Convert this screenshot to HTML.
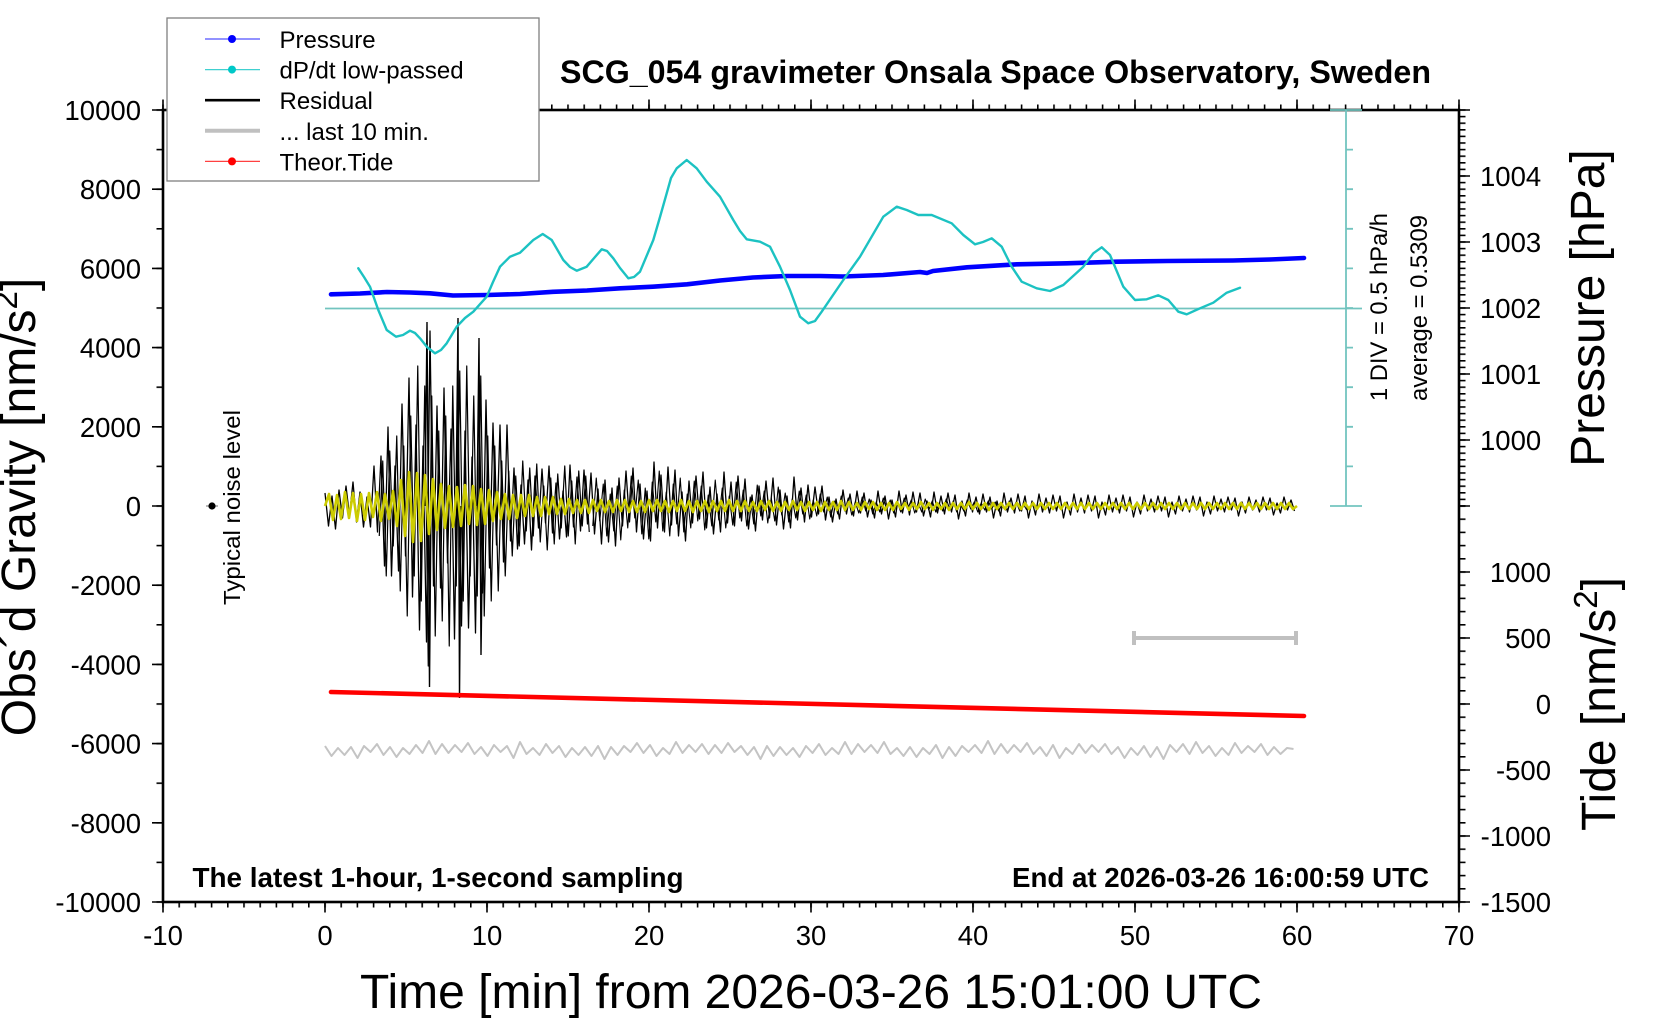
<!DOCTYPE html>
<html>
<head>
<meta charset="utf-8">
<style>
html,body{margin:0;padding:0;background:#fff;overflow:hidden;}
svg{display:block;}
text{font-family:"Liberation Sans",Arial,Helvetica,sans-serif;fill:#000;}
</style>
</head>
<body>
<svg xmlns="http://www.w3.org/2000/svg" width="1660" height="1020" viewBox="0 0 1660 1020">
<defs>
<pattern id="pxb" patternUnits="userSpaceOnUse" x="162.2" y="0" width="16.2" height="10"><rect x="0" y="0" width="1.6" height="10" fill="#000"/></pattern>
<pattern id="pyl" patternUnits="userSpaceOnUse" x="0" y="109.2" width="10" height="39.6"><rect x="0" y="0" width="10" height="1.6" fill="#000"/></pattern>
<pattern id="ppr" patternUnits="userSpaceOnUse" x="0" y="109.2" width="10" height="6.6"><rect x="0" y="0" width="10" height="1.6" fill="#000"/></pattern>
<pattern id="ptd" patternUnits="userSpaceOnUse" x="0" y="505.2" width="10" height="13.2"><rect x="0" y="0" width="10" height="1.6" fill="#000"/></pattern>
</defs>
<rect x="0" y="0" width="1660" height="1020" fill="#fff"/>

<!-- minor ticks -->
<rect x="162" y="902" width="1299" height="5.5" fill="url(#pxb)"/>
<rect x="162" y="104.5" width="1299" height="5.5" fill="url(#pxb)"/>
<rect x="156.5" y="109" width="6.5" height="794.5" fill="url(#pyl)"/>
<rect x="1459" y="109" width="6.5" height="398" fill="url(#ppr)"/>
<rect x="1459" y="505" width="6.5" height="398.5" fill="url(#ptd)"/>
<!-- major ticks -->
<path stroke="#000" stroke-width="1.6" fill="none" d="M163,902v10.5M325,902v10.5M487,902v10.5M649,902v10.5M811,902v10.5M973,902v10.5M1135,902v10.5M1297,902v10.5M1459,902v10.5
M163,110v-10.5M325,110v-10.5M487,110v-10.5M649,110v-10.5M811,110v-10.5M973,110v-10.5M1135,110v-10.5M1297,110v-10.5M1459,110v-10.5
M163,110h-11M163,189.2h-11M163,268.4h-11M163,347.6h-11M163,426.8h-11M163,506h-11M163,585.2h-11M163,664.4h-11M163,743.6h-11M163,822.8h-11M163,902h-11
M1459,110h11M1459,176h11M1459,242h11M1459,308h11M1459,374h11M1459,440h11M1459,506h11
M1459,572h11M1459,638h11M1459,704h11M1459,770h11M1459,836h11M1459,902h11"/>

<!-- frame -->
<rect x="163" y="110" width="1296" height="792" fill="none" stroke="#000" stroke-width="2.6"/>

<!-- cyan zero line and DIV axis -->
<g stroke="#72c4bf" stroke-width="1.8" fill="none">
<line x1="325" y1="308.5" x2="1362" y2="308.5"/>
<line x1="1346" y1="110" x2="1346" y2="506"/>
<line x1="1330" y1="110" x2="1362" y2="110"/>
<line x1="1330" y1="506" x2="1362" y2="506"/>
<path d="M1346,149.6h7M1346,189.2h7M1346,228.8h7M1346,268.4h7M1346,308h7M1346,347.6h7M1346,387.2h7M1346,426.8h7M1346,466.4h7"/>
</g>

<!-- residual -->
<polyline fill="none" stroke="#000" stroke-width="1.3" stroke-linejoin="round" vector-effect="non-scaling-stroke" transform="translate(325,506) scale(3.5,1)"
points="0,-13 1,20 2,-10 3,23 4,-16 5,12 6,-20 7,10 8,-24 9,16 10,-14 11,21 12,-9 13,21 14,-40 15,26 16,-50 17,60 18,-79 19,70 20,-40 21,65 22,-102 23,50 24,-128 25,91 26,-81 27,124 28,-60 29,136 30,-175 31,80 32,-100 33,82 34,-118 35,57 36,-77 37,133 38,-90 39,120 40,-75 41,122 42,-49 43,127 44,-116 45,87 46,-106 47,62 48,-83 49,39 50,-81 51,56 52,-81 53,35 54,-38 55,43 56,-21 57,38 58,-26 59,44 60,-30 61,22 62,-37 63,17 64,-40 65,27 66,-23 67,33 68,-15 69,31 70,-41 71,21 72,-29 73,25 74,-36 75,18 76,-33 77,28 78,-17 79,38 80,-26 81,36 82,-18 83,40 84,-28 85,20 86,-35 87,16 88,-38 89,26 90,-22 91,33 92,-15 93,35 94,-44 95,22 96,-31 97,26 98,-39 99,19 100,-36 101,30 102,-14 103,35 104,-25 105,17 106,-30 107,13 108,-34 109,22 110,-19 111,28 112,-12 113,26 114,-34 115,17 116,-24 117,20 118,-30 119,15 120,-27 121,23 122,-11 123,25 124,-20 125,14 126,-25 127,12 128,-28 129,19 130,-16 131,23 132,-10 133,22 134,-29 135,14 136,-18 137,16 138,-21 139,11 140,-19 141,8 142,-20 143,14 144,-9 145,16 146,-7 147,13 148,-16 149,8 150,-12 151,10 152,-15 153,7 154,-13 155,11 156,-6 157,12 158,-15 159,8 160,-10 161,13 162,-6 163,11 164,-15 165,7 166,-11 167,9 168,-14 169,6 170,-13 171,10 172,-5 173,11 174,-14 175,7 176,-10 177,8 178,-13 179,6 180,-11 181,13 182,-5 183,10 184,-13 185,6 186,-9 187,8 188,-12 189,6 190,-9 191,12 192,-5 193,10 194,-13 195,6 196,-8 197,7 198,-12 199,5 200,-10 201,12 202,-5 203,9 204,-12 205,6 206,-8 207,7 208,-11 209,5 210,-10 211,12 212,-4 213,9 214,-12 215,6 216,-8 217,7 218,-11 219,5 220,-10 221,12 222,-4 223,9 224,-11 225,6 226,-8 227,7 228,-11 229,5 230,-9 231,11 232,-4 233,8 234,-11 235,5 236,-7 237,6 238,-10 239,5 240,-9 241,11 242,-4 243,8 244,-10 245,5 246,-7 247,6 248,-10 249,4 250,-9 251,10 252,-4 253,8 254,-10 255,5 256,-7 257,6 258,-9 259,4 260,-8 261,10 262,-4 263,7 264,-9 265,4 266,-6 267,6 268,-9 269,4 270,-8 271,9 272,-3 273,7 274,-9 275,4 276,-6 277,5"/>
<!-- residual overlay (denser burst) -->
<polyline fill="none" stroke="#000" stroke-width="1.2" stroke-linejoin="round" vector-effect="non-scaling-stroke" transform="translate(326.75,506) scale(3.5,1)"
points="15,30 16,-45 17,70 18,-55 19,40 20,-70 21,85 22,-60 23,110 24,-90 25,70 26,-140 27,95 28,-120 29,160 30,-110 31,130 32,-75 33,115 34,-90 35,140 36,-120 37,80 38,-135 39,95 40,-140 41,70 42,-110 43,90 44,-130 45,110 46,-70 47,95 48,-60 49,85 50,-45 51,70 52,-35 53,50 54,-30 55,40 56,-45 57,25 58,-38 59,30 60,-42 61,36 62,-20 63,44 64,-28 65,38 66,-32 67,22 68,-40 69,30 70,-25 71,38 72,-35 73,20 74,-30 75,26"/>
<polyline fill="none" stroke="#000" stroke-width="1.1" stroke-linejoin="round" vector-effect="non-scaling-stroke" transform="translate(326.75,506) scale(3.5,1)"
points="76,20 77,-28 78,15 79,-22 80,30 81,-12 82,25 83,-20 84,34 85,-16 86,22 87,-30 88,12 89,-26 90,28 91,-18 92,33 93,-24 94,16 95,-35 96,25 97,-14 98,30 99,-22 100,18 101,-28 102,26 103,-12 104,22 105,-25 106,15 107,-20 108,24 109,-11 110,20 111,-26 112,14 113,-18 114,22 115,-10 116,19 117,-24 118,12 119,-16 120,20 121,-9 122,18 123,-21 124,10 125,-15 126,17 127,-8 128,15 129,-19 130,9 131,-13 132,16 133,-7 134,12 135,-15 136,8 137,-11 138,13 139,-6 140,10 141,-12 142,6 143,-9 144,11 145,-5 146,8 147,-10 148,5 149,-8 150,9 151,-4 152,7 153,-9 154,5 155,-7 156,8 157,-4 158,6 159,-8 160,4 161,-6 162,7 163,-4 164,6 165,-8 166,3 167,-6 168,7 169,-3 170,6 171,-7 172,4 173,-5 174,6 175,-3 176,5 177,-7 178,3 179,-5 180,6 181,-3 182,5 183,-6 184,3 185,-4 186,6 187,-3 188,4 189,-5 190,3 191,-4 192,5 193,-2 194,4 195,-5 196,3 197,-4 198,5 199,-2 200,4"/>
<path fill="none" stroke="#000" stroke-width="1.4" d="M425,506L427,322L429.5,687L431,506M456,506L458,318L459.5,698L461,506M477,506L479,338L481,655L483,506"/>

<!-- yellow -->
<polyline fill="none" stroke="#cccc00" stroke-width="2.6" stroke-linejoin="round" vector-effect="non-scaling-stroke" transform="translate(325,506) scale(4,1)"
points="0,0 1,-12 2,14 3,-11 4,13 5,-14 6,12 7,-13 8,15 9,-12 10,14 11,-13 12,11 13,-14 14,15 15,-12 16,13 17,-15 18,20 19,-26 20,30 21,-34 22,36 23,-33 24,35 25,-31 26,28 27,-27 28,24 29,-22 30,22 31,-20 32,21 33,-19 34,20 35,-21 36,18 37,-20 38,19 39,-17 40,18 41,-16 42,15 43,-14 44,13 45,-12 46,13 47,-11 48,12 49,-11 50,10 51,-11 52,10 53,-9 54,10 55,-9 56,8 57,-9 58,8 59,-7 60,8 61,-7 62,7 63,-6 64,7 65,-6 66,7 67,-6 68,5 69,-6 70,6 71,-5 72,6 73,-6 74,5 75,-6 76,6 77,-5 78,6 79,-5 80,6 81,-6 82,5 83,-6 84,5 85,-5 86,6 87,-5 88,5 89,-6 90,5 91,-5 92,6 93,-5 94,5 95,-5 96,6 97,-5 98,5 99,-5 100,5 101,-6 102,5 103,-5 104,5 105,-5 106,5 107,-4 108,5 109,-5 110,4 111,-5 112,5 113,-4 114,5 115,-4 116,4 117,-5 118,4 119,-4 120,5 121,-4 122,4 123,-4 124,5 125,-4 126,4 127,-4 128,4 129,-5 130,4 131,-4 132,4 133,-3 134,4 135,-4 136,3 137,-4 138,4 139,-3 140,4 141,-3 142,4 143,-4 144,3 145,-3 146,4 147,-3 148,3 149,-4 150,3 151,-3 152,4 153,-3 154,3 155,-3 156,4 157,-3 158,3 159,-3 160,3 161,-4 162,3 163,-3 164,3 165,-3 166,4 167,-3 168,3 169,-3 170,3 171,-3 172,3 173,-3 174,3 175,-3 176,3 177,-3 178,3 179,-3 180,3 181,-3 182,3 183,-3 184,3 185,-3 186,3 187,-3 188,3 189,-3 190,3 191,-3 192,3 193,-3 194,3 195,-3 196,3 197,-3 198,3 199,-3 200,3 201,-3 202,3 203,-3 204,3 205,-3 206,3 207,-3 208,3 209,-3 210,3 211,-3 212,3 213,-3 214,3 215,-3 216,3 217,-3 218,3 219,-3 220,3 221,-3 222,3 223,-3 224,3 225,-3 226,3 227,-3 228,3 229,-3 230,3 231,-3 232,3 233,-3 234,3 235,-3 236,3 237,-3 238,3 239,-3 240,3 241,-3 242,3 243,0"/>

<!-- gray last 10 min -->
<polyline fill="none" stroke="#c4c4c4" stroke-width="2" stroke-linejoin="round" vector-effect="non-scaling-stroke" transform="translate(325,750) scale(6.5,1)"
points="0,-4 1,6 2,-2 3,5 4,-3 5,8 6,-4 7,2 8,-6 9,5 10,-3 11,7 12,-2 13,4 14,-5 15,3 16,-9 17,4 18,-6 19,3 20,-5 21,2 22,-7 23,4 24,-3 25,6 26,-5 27,2 28,-4 29,8 30,-8 31,4 32,-2 33,5 34,-6 35,3 36,-4 37,7 38,-2 39,5 40,-3 41,6 42,-4 43,9 44,-3 45,5 46,-4 47,2 48,-7 49,3 50,-5 51,6 52,-2 53,4 54,-8 55,3 56,-5 57,2 58,-6 59,4 60,-5 61,3 62,-7 63,2 64,-4 65,5 66,-3 67,9 68,-4 69,6 70,-3 71,5 72,-2 73,7 74,-4 75,3 76,-6 77,5 78,-2 79,4 80,-8 81,4 82,-6 83,2 84,-5 85,3 86,-8 87,4 88,-2 89,6 90,-3 91,7 92,-2 93,4 94,-5 95,8 96,-3 97,6 98,-4 99,2 100,-5 101,3 102,-9 103,4 104,-6 105,3 106,-5 107,2 108,-7 109,4 110,-3 111,6 112,-5 113,8 114,-2 115,4 116,-6 117,3 118,-5 119,2 120,-6 121,4 122,-3 123,8 124,-2 125,5 126,-4 127,7 128,-3 129,9 130,-5 131,2 132,-6 133,4 134,-8 135,3 136,-4 137,6 138,-2 139,5 140,-7 141,3 142,-4 143,2 144,-6 145,5 146,-3 147,4 148,-2 149,-1"/>

<!-- tide -->
<line x1="331" y1="692" x2="1304" y2="716" stroke="#ff0000" stroke-width="4.6" stroke-linecap="round"/>

<!-- pressure -->
<polyline fill="none" stroke="#0000ff" stroke-width="4.6" stroke-linejoin="round" stroke-linecap="round"
points="331,294.3 360,293.5 387,292 410,292.5 430,293.3 453,295.5 487,295 520,294 553,291.8 587,290.5 620,288.3 653,286.7 687,284.3 720,280.5 753,277.5 787,276 820,276 843,276.5 883,275 920,272 927,273 933,271 967,267.3 1017,264.3 1067,263.3 1117,261.7 1167,261 1233,260.5 1270,259.5 1304,258"/>

<!-- dP/dt -->
<polyline fill="none" stroke="#1cc2c2" stroke-width="2.4" stroke-linejoin="round" stroke-linecap="round"
points="358.3,268.3 364,277 370,286.7 378.3,310 386.7,330 396,336.7 403,335 410,330.7 415,333 420,338.3 427,347 435,353.3 441,350 446.7,343.3 456.7,326.7 465,318 473.3,311.7 486.7,296.7 493,282 500,266.7 510,256.7 520,252.7 533.3,240 542.7,234 551.7,240 563.3,260 570,267 576.7,270.7 586.7,266.7 595,257 601.7,249.3 607,251 613.3,258.3 620,268 628.3,278.3 634,277 640,271.7 653.3,240 660,217 666.7,193.3 671,178 676.7,168.3 686.7,160 696.7,168.3 706.7,181.7 720,196.7 733.3,220 740,231 746.7,239.3 760,241.7 770,246.7 780,266.7 790,290 800,316.7 808.3,323.3 815,321 821.7,311.7 843.3,280 860,256.7 883.3,216.7 896.7,206.7 906.7,210 918.3,215 931.7,215 951.7,223.3 963.3,235 975,244.3 983,242 991.7,238.3 1001.7,246.7 1011.7,266.7 1021.7,281.7 1036.7,288.3 1050,291 1063.3,285 1083.3,266.7 1093.3,253.3 1101.7,247.3 1110,255 1123.3,286.7 1135,300 1146.7,299.3 1158.3,295.3 1168.3,300 1178.3,311.7 1186.7,314.3 1200,308.3 1213.3,302.7 1226.7,292.7 1240,287.7"/>

<!-- 10-min scale bar -->
<g stroke="#c0c0c0" stroke-width="4" fill="none">
<line x1="1134" y1="638" x2="1296" y2="638"/>
<line x1="1134" y1="631" x2="1134" y2="645"/>
<line x1="1296" y1="631" x2="1296" y2="645"/>
</g>

<!-- typical noise level -->
<line x1="206" y1="506" x2="218" y2="506" stroke="#b8b8b8" stroke-width="2"/>
<circle cx="212" cy="506" r="3.6" fill="#000"/>
<text transform="translate(240,507.5) rotate(-90)" text-anchor="middle" font-size="23" textLength="195" lengthAdjust="spacingAndGlyphs">Typical noise level</text>

<!-- DIV texts -->
<text transform="translate(1387,401) rotate(-90)" font-size="24" textLength="188" lengthAdjust="spacingAndGlyphs">1 DIV = 0.5 hPa/h</text>
<text transform="translate(1427,401) rotate(-90)" font-size="24" textLength="186" lengthAdjust="spacingAndGlyphs">average = 0.5309</text>

<!-- left tick labels -->
<g font-size="27.5" text-anchor="end">
<text x="141" y="120">10000</text>
<text x="141" y="199.2">8000</text>
<text x="141" y="278.4">6000</text>
<text x="141" y="357.6">4000</text>
<text x="141" y="436.8">2000</text>
<text x="141" y="516">0</text>
<text x="141" y="595.2">-2000</text>
<text x="141" y="674.4">-4000</text>
<text x="141" y="753.6">-6000</text>
<text x="141" y="832.8">-8000</text>
<text x="141" y="912">-10000</text>
</g>

<!-- right pressure labels -->
<g font-size="27.5">
<text x="1480" y="186">1004</text>
<text x="1480" y="252">1003</text>
<text x="1480" y="318">1002</text>
<text x="1480" y="384">1001</text>
<text x="1480" y="450">1000</text>
</g>
<!-- tide labels -->
<g font-size="27.5" text-anchor="end">
<text x="1551" y="582">1000</text>
<text x="1551" y="648">500</text>
<text x="1551" y="714">0</text>
<text x="1551" y="780">-500</text>
<text x="1551" y="846">-1000</text>
<text x="1551" y="912">-1500</text>
</g>

<!-- bottom labels -->
<g font-size="27.5" text-anchor="middle">
<text x="163" y="945">-10</text>
<text x="325" y="945">0</text>
<text x="487" y="945">10</text>
<text x="649" y="945">20</text>
<text x="811" y="945">30</text>
<text x="973" y="945">40</text>
<text x="1135" y="945">50</text>
<text x="1297" y="945">60</text>
<text x="1459" y="945">70</text>
</g>

<!-- axis titles -->
<text x="360" y="1008" font-size="48" textLength="902" lengthAdjust="spacingAndGlyphs">Time [min] from 2026-03-26 15:01:00 UTC</text>
<text transform="translate(35,507) rotate(-90)" text-anchor="middle" font-size="48">Obs´d Gravity [nm/s<tspan font-size="33" dy="-18">2</tspan><tspan dy="18">]</tspan></text>
<text transform="translate(1604,308) rotate(-90)" text-anchor="middle" font-size="48">Pressure [hPa]</text>
<text transform="translate(1615,704) rotate(-90)" text-anchor="middle" font-size="48">Tide [nm/s<tspan font-size="33" dy="-18">2</tspan><tspan dy="18">]</tspan></text>

<!-- title & notes -->
<text x="560" y="83" font-size="32" font-weight="bold" textLength="871" lengthAdjust="spacingAndGlyphs">SCG_054 gravimeter Onsala Space Observatory, Sweden</text>
<text x="192.5" y="887" font-size="27.5" font-weight="bold" textLength="491" lengthAdjust="spacingAndGlyphs">The latest 1-hour, 1-second sampling</text>
<text x="1012" y="887" font-size="27.5" font-weight="bold" textLength="417" lengthAdjust="spacingAndGlyphs">End at 2026-03-26 16:00:59 UTC</text>

<!-- legend -->
<rect x="167" y="18" width="372" height="163" fill="#fff" stroke="#808080" stroke-width="1.3"/>
<line x1="205" y1="39" x2="260" y2="39" stroke="#5050ff" stroke-width="1.2"/>
<circle cx="232" cy="39" r="4" fill="#0000ff"/>
<line x1="205" y1="69.6" x2="260" y2="69.6" stroke="#40d0d0" stroke-width="1.2"/>
<circle cx="232" cy="69.6" r="4" fill="#00c8c8"/>
<line x1="205" y1="100.2" x2="260" y2="100.2" stroke="#000" stroke-width="2.6"/>
<line x1="205" y1="130.8" x2="260" y2="130.8" stroke="#c0c0c0" stroke-width="4"/>
<line x1="205" y1="161.4" x2="260" y2="161.4" stroke="#ff4040" stroke-width="1.2"/>
<circle cx="232" cy="161.4" r="4" fill="#ff0000"/>
<g font-size="24">
<text x="279.5" y="48">Pressure</text>
<text x="279.5" y="78.6">dP/dt low-passed</text>
<text x="279.5" y="109.2">Residual</text>
<text x="279.5" y="139.8">... last 10 min.</text>
<text x="279.5" y="170.4">Theor.Tide</text>
</g>
</svg>
</body>
</html>
